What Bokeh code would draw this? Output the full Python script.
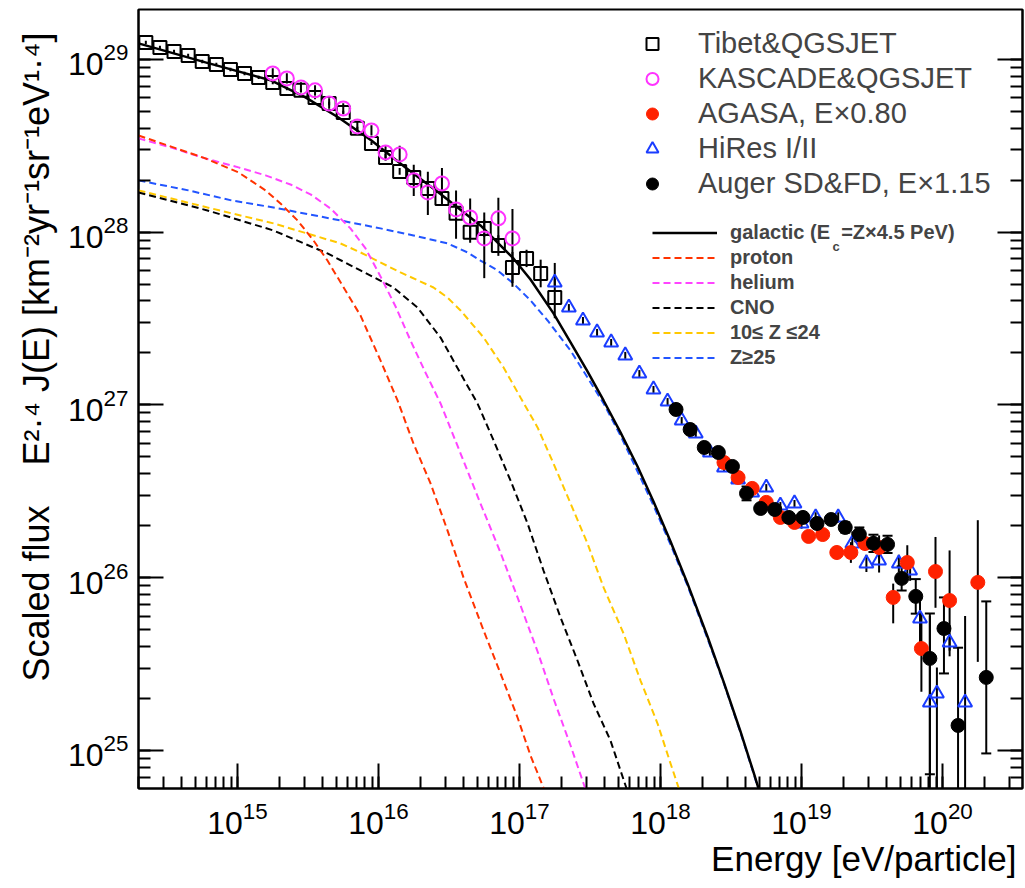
import numpy as np
from bokeh.plotting import figure
from bokeh.models import Range1d, LogAxis, LogTicker, Label, Legend, LegendItem, Title
from bokeh.embed import file_html
from bokeh.resources import INLINE

# ---------------- data (log10 E [eV], log10 scaled flux) ----------------
tibet_logE = [14.35, 14.45, 14.55, 14.65, 14.75, 14.85, 14.95, 15.05, 15.15, 15.25,
              15.35, 15.45, 15.55, 15.65, 15.75, 15.85, 15.95, 16.05, 16.15, 16.25,
              16.35, 16.45, 16.55, 16.65, 16.75, 16.85, 16.95, 17.05, 17.15, 17.25]
tibet_logF = [29.098, 29.069, 29.046, 29.023, 28.988, 28.971, 28.942, 28.919, 28.896, 28.867,
              28.832, 28.821, 28.780, 28.745, 28.693, 28.601, 28.514, 28.433, 28.352, 28.317,
              28.253, 28.195, 28.109, 27.999, 28.022, 27.923, 27.796, 27.848, 27.761, 27.622]
tibet_err_up = [0.01, 0.01, 0.01, 0.01, 0.01, 0.01, 0.01, 0.01, 0.01, 0.01,
                0.01, 0.01, 0.01, 0.01, 0.01, 0.01, 0.01, 0.02, 0.02, 0.03,
                0.03, 0.04, 0.05, 0.06, 0.05, 0.06, 0.09, 0.05, 0.08, 0.20]
tibet_err_dn = [0.01, 0.01, 0.01, 0.01, 0.01, 0.01, 0.01, 0.01, 0.01, 0.01,
                0.01, 0.01, 0.01, 0.01, 0.01, 0.01, 0.01, 0.02, 0.02, 0.03,
                0.03, 0.04, 0.05, 0.06, 0.05, 0.06, 0.09, 0.05, 0.08, 0.12]

kascade_logE = [15.25, 15.35, 15.45, 15.55, 15.65, 15.75, 15.85, 15.95, 16.05,
                16.15, 16.25, 16.35, 16.45, 16.55, 16.65, 16.75, 16.85, 16.95]
kascade_logF = [28.919, 28.890, 28.838, 28.821, 28.745, 28.716, 28.612, 28.589, 28.462,
                28.450, 28.300, 28.230, 28.282, 28.132, 28.085, 27.964, 28.080, 27.964]
kascade_err_up = [0.03, 0.03, 0.03, 0.03, 0.03, 0.03, 0.03, 0.03, 0.04,
                  0.05, 0.09, 0.12, 0.09, 0.11, 0.11, 0.15, 0.12, 0.17]
kascade_err_dn = [0.03, 0.03, 0.03, 0.03, 0.03, 0.03, 0.03, 0.03, 0.04,
                  0.05, 0.09, 0.13, 0.08, 0.17, 0.12, 0.23, 0.14, 0.28]

agasa_logE = [18.45, 18.55, 18.65, 18.75, 18.85, 18.95, 19.05, 19.15, 19.25,
              19.35, 19.45, 19.55, 19.65, 19.75, 19.85, 19.95, 20.05, 20.25]
agasa_logF = [26.667, 26.580, 26.517, 26.436, 26.349, 26.320, 26.239, 26.250, 26.146,
              26.146, 26.198, 26.175, 25.886, 26.088, 25.590, 26.036, 25.868, 25.973]
agasa_err_up = [0.02, 0.02, 0.02, 0.02, 0.02, 0.02, 0.03, 0.03, 0.04,
                0.06, 0.04, 0.07, 0.08, 0.10, 0.20, 0.20, 0.29, 0.36]
agasa_err_dn = [0.02, 0.02, 0.02, 0.02, 0.02, 0.02, 0.03, 0.03, 0.04,
                0.06, 0.04, 0.07, 0.15, 0.10, 0.25, 0.21, 0.29, 0.46]

hires_logE = [17.25, 17.35, 17.45, 17.55, 17.65, 17.75, 17.85, 17.95, 18.05, 18.15,
              18.25, 18.35, 18.45, 18.55, 18.65, 18.75, 18.85, 18.95, 19.00, 19.10,
              19.26, 19.36, 19.46, 19.55, 19.69, 19.77, 19.84, 19.91, 19.96, 20.05, 20.16]
hires_logF = [27.709, 27.564, 27.489, 27.420, 27.362, 27.287, 27.182, 27.090, 27.020, 26.910,
              26.835, 26.725, 26.638, 26.569, 26.494, 26.522, 26.418, 26.430, 26.314, 26.349,
              26.349, 26.198, 26.083, 26.100, 26.083, 26.042, 25.764, 25.278, 25.330, 25.625, 25.278]
hires_err_up = [0.02, 0.02, 0.02, 0.02, 0.02, 0.02, 0.02, 0.02, 0.02, 0.02,
                0.02, 0.02, 0.02, 0.02, 0.02, 0.02, 0.02, 0.02, 0.03, 0.03,
                0.03, 0.07, 0.05, 0.07, 0.05, 0.06, 0.10, 0.50, 0.15, 0.05, 0.50]
hires_err_dn = [0.02, 0.02, 0.02, 0.02, 0.02, 0.02, 0.02, 0.02, 0.02, 0.02,
                0.02, 0.02, 0.02, 0.02, 0.02, 0.02, 0.02, 0.02, 0.03, 0.03,
                0.03, 0.07, 0.05, 0.07, 0.05, 0.06, 0.15, 1.50, 1.50, 0.08, 1.50]

auger_logE = [18.11, 18.21, 18.31, 18.41, 18.51, 18.61, 18.71, 18.81, 18.91, 19.01, 19.11,
              19.21, 19.31, 19.41, 19.51, 19.61, 19.71, 19.81, 19.91, 20.01, 20.11, 20.31]
auger_logF = [26.974, 26.858, 26.754, 26.725, 26.644, 26.488, 26.401, 26.395, 26.349, 26.349, 26.314,
              26.337, 26.291, 26.251, 26.199, 26.193, 25.996, 25.892, 25.533, 25.706, 25.145, 25.423]
auger_err_up = [0.02, 0.02, 0.02, 0.02, 0.02, 0.04, 0.02, 0.02, 0.02, 0.02, 0.02,
                0.02, 0.03, 0.04, 0.05, 0.05, 0.07, 0.10, 0.26, 0.18, 0.45, 0.44]
auger_err_dn = [0.02, 0.02, 0.02, 0.02, 0.02, 0.04, 0.02, 0.02, 0.02, 0.02, 0.02,
                0.02, 0.03, 0.04, 0.05, 0.05, 0.07, 0.10, 0.67, 0.26, 1.50, 0.44]

# model curves
galactic_logE = [14.298, 14.773, 15.241, 15.482, 15.716, 15.950, 16.191, 16.426, 16.723, 16.957,
                 17.078, 17.241, 17.362, 17.482, 17.596, 17.716, 17.837, 17.950, 18.071, 18.191,
                 18.333, 18.447, 18.567, 18.660, 18.780]
galactic_logF = [29.093, 28.983, 28.878, 28.780, 28.664, 28.531, 28.375, 28.230, 28.039, 27.848,
                 27.726, 27.530, 27.362, 27.194, 27.026, 26.841, 26.644, 26.441, 26.210, 25.967,
                 25.660, 25.399, 25.110, 24.873, 24.554]
proton_logE = [14.298, 14.773, 15.007, 15.199, 15.305, 15.426, 15.539, 15.638, 15.872, 16.014,
               16.135, 16.248, 16.369, 16.489, 16.603, 16.745, 16.865, 16.986, 17.078, 17.220]
proton_logF = [28.560, 28.427, 28.346, 28.242, 28.166, 28.068, 27.952, 27.836, 27.518, 27.258,
               27.026, 26.777, 26.546, 26.274, 26.001, 25.695, 25.446, 25.191, 24.971, 24.682]
helium_logE = [14.298, 14.525, 14.773, 15.007, 15.199, 15.376, 15.518, 15.660, 15.801, 15.908,
               16.014, 16.121, 16.227, 16.333, 16.440, 16.582, 16.723, 16.865, 16.986, 17.128,
               17.241, 17.362, 17.454, 17.539]
helium_logF = [28.543, 28.491, 28.427, 28.375, 28.329, 28.276, 28.219, 28.137, 28.022, 27.906,
               27.744, 27.570, 27.373, 27.188, 27.009, 26.719, 26.430, 26.146, 25.886, 25.573,
               25.301, 25.029, 24.809, 24.606]
cno_logE = [14.298, 14.787, 15.255, 15.638, 15.872, 16.106, 16.277, 16.440, 16.582, 16.702,
            16.816, 16.936, 17.057, 17.170, 17.291, 17.411, 17.525, 17.645, 17.759, 17.830]
cno_logF = [28.230, 28.126, 28.010, 27.877, 27.779, 27.680, 27.564, 27.390, 27.182, 27.009,
            26.795, 26.563, 26.314, 26.042, 25.770, 25.521, 25.272, 25.058, 24.780, 24.624]
mid_logE = [14.298, 14.787, 15.255, 15.730, 15.872, 16.156, 16.390, 16.489, 16.582, 16.745,
            16.887, 17.007, 17.128, 17.241, 17.362, 17.482, 17.596, 17.738, 17.858, 17.979,
            18.071, 18.170]
mid_logF = [28.242, 28.143, 28.051, 27.935, 27.883, 27.767, 27.680, 27.622, 27.547, 27.391,
            27.217, 27.043, 26.870, 26.661, 26.430, 26.198, 25.944, 25.677, 25.405, 25.156,
            24.925, 24.682]
heavy_logE = [14.298, 14.652, 14.957, 15.255, 15.730, 16.014, 16.248, 16.489, 16.631, 16.723,
              16.844, 16.957, 17.078, 17.199, 17.362, 17.482, 17.596, 17.716, 17.837, 17.950,
              18.071, 18.191, 18.333, 18.447, 18.567, 18.660, 18.780]
heavy_logF = [28.300, 28.242, 28.184, 28.143, 28.068, 28.022, 27.981, 27.935, 27.883, 27.836,
              27.779, 27.703, 27.605, 27.489, 27.315, 27.159, 27.009, 26.823, 26.615, 26.418,
              26.192, 25.955, 25.648, 25.394, 25.104, 24.867, 24.548]

legend_markers = ["Tibet&QGSJET", "KASCADE&QGSJET", "AGASA, E×0.80", "HiRes I/II",
                  "Auger SD&FD, E×1.15"]
legend_lines = ["galactic (E  =Z×4.5 PeV)", "proton", "helium", "CNO", "10≤ Z ≤24", "Z≥25"]
x_title = "Energy [eV/particle]"
y_title = ("Scaled flux\u00a0\u00a0\u00a0\u00a0E\u00b2\u00b7\u2074 J(E) "
           "[km\u207b\u00b2yr\u207b\u00b9sr\u207b\u00b9eV\u00b9\u00b7\u2074]")

# ---------------- geometry ----------------
FRAME_L, FRAME_T, FRAME_W, FRAME_H = 138, 9, 884, 779
X_LOG0, X_LOG1 = 14.298, 20.567
Y_LOG0, Y_LOG1 = 24.780, 29.289
FONT = "Liberation Sans"


def px2x(px):
    return 10 ** (X_LOG0 + (px - FRAME_L) / FRAME_W * (X_LOG1 - X_LOG0))


def py2y(py):
    return 10 ** (Y_LOG1 - (py - FRAME_T) / FRAME_H * (Y_LOG1 - Y_LOG0))


def pw(a):
    return 10 ** np.array(a, dtype=float)


p = figure(x_axis_type="log", y_axis_type="log",
           x_range=Range1d(10 ** X_LOG0, 10 ** X_LOG1),
           y_range=Range1d(10 ** Y_LOG0, 10 ** Y_LOG1),
           frame_width=FRAME_W, frame_height=FRAME_H,
           min_border_left=FRAME_L, min_border_top=FRAME_T,
           min_border_right=2, min_border_bottom=90,
           output_backend="svg", toolbar_location=None)
p.background_fill_color = "white"
p.border_fill_color = "white"
p.outline_line_color = "black"
p.outline_line_width = 2
p.xgrid.visible = False
p.ygrid.visible = False


def style_axis(ax, show_labels=True):
    ax.ticker = LogTicker(num_minor_ticks=10)
    ax.major_tick_in = 25
    ax.major_tick_out = 0
    ax.minor_tick_in = 12
    ax.minor_tick_out = 0
    ax.major_tick_line_width = 2
    ax.minor_tick_line_width = 2
    ax.axis_line_width = 2
    ax.major_label_text_font = FONT
    ax.major_label_text_font_size = "32px" if show_labels else "0px"
    ax.major_label_text_color = "black"
    if not show_labels:
        ax.major_label_text_alpha = 0


style_axis(p.xaxis[0])
style_axis(p.yaxis[0])
p.xaxis[0].major_label_standoff = 13
p.yaxis[0].major_label_standoff = 10
ra = LogAxis()
style_axis(ra, show_labels=False)
ra.major_label_standoff = 0
p.add_layout(ra, "right")

DASH = "7 4"
r_heavy = p.line(pw(heavy_logE), pw(heavy_logF), line_color="#2255ff", line_width=2, line_dash=DASH)
r_mid = p.line(pw(mid_logE), pw(mid_logF), line_color="#ffc800", line_width=2, line_dash=DASH)
r_cno = p.line(pw(cno_logE), pw(cno_logF), line_color="black", line_width=2, line_dash=DASH)
r_he = p.line(pw(helium_logE), pw(helium_logF), line_color="#ff44ff", line_width=2, line_dash=DASH)
r_p = p.line(pw(proton_logE), pw(proton_logF), line_color="#ff3300", line_width=2, line_dash=DASH)
r_gal = p.line(pw(galactic_logE), pw(galactic_logF), line_color="black", line_width=2.5)


def errbars(logE, logF, up, dn, caps=False):
    E = pw(logE)
    lo = pw(np.array(logF) - np.array(dn))
    hi = pw(np.array(logF) + np.array(up))
    p.segment(x0=E, y0=lo, x1=E, y1=hi, line_color="black", line_width=2)
    if caps:
        p.scatter(np.concatenate([E, E]), np.concatenate([lo, hi]), marker="dash",
                  size=10, line_color="black", line_width=2)


errbars(tibet_logE, tibet_logF, tibet_err_up, tibet_err_dn)
errbars(kascade_logE, kascade_logF, kascade_err_up, kascade_err_dn)
errbars(hires_logE, hires_logF, hires_err_up, hires_err_dn)
errbars(agasa_logE, agasa_logF, agasa_err_up, agasa_err_dn)
errbars(auger_logE, auger_logF, auger_err_up, auger_err_dn, caps=True)

r_tibet = p.scatter(pw(tibet_logE), pw(tibet_logF), marker="square", size=13,
                    fill_color=None, line_color="black", line_width=2)
r_kas = p.scatter(pw(kascade_logE), pw(kascade_logF), marker="circle", size=14,
                  fill_color=None, line_color="#ff33ff", line_width=2)
r_hires = p.scatter(pw(hires_logE), pw(hires_logF), marker="triangle", size=14,
                    fill_color=None, line_color="#1a3cff", line_width=2)
r_agasa = p.scatter(pw(agasa_logE), pw(agasa_logF), marker="circle", size=14,
                    fill_color="#ff2200", line_color="#ff2200")
r_auger = p.scatter(pw(auger_logE), pw(auger_logF), marker="circle", size=14,
                    fill_color="black", line_color="black")

leg1 = Legend(items=[LegendItem(label=legend_markers[0], renderers=[r_tibet]),
                     LegendItem(label=legend_markers[1], renderers=[r_kas]),
                     LegendItem(label=legend_markers[2], renderers=[r_agasa]),
                     LegendItem(label=legend_markers[3], renderers=[r_hires]),
                     LegendItem(label=legend_markers[4], renderers=[r_auger])],
              location=(637 - FRAME_L, (FRAME_T + FRAME_H) - 200.5),
              glyph_width=30, glyph_height=35, label_height=35, label_standoff=31,
              spacing=0, padding=0, margin=0,
              label_text_font=FONT, label_text_font_size="29px",
              background_fill_alpha=0, border_line_color=None)
leg2 = Legend(items=[LegendItem(label=legend_lines[0], renderers=[r_gal]),
                     LegendItem(label=legend_lines[1], renderers=[r_p]),
                     LegendItem(label=legend_lines[2], renderers=[r_he]),
                     LegendItem(label=legend_lines[3], renderers=[r_cno]),
                     LegendItem(label=legend_lines[4], renderers=[r_mid]),
                     LegendItem(label=legend_lines[5], renderers=[r_heavy])],
              location=(652 - FRAME_L, (FRAME_T + FRAME_H) - 369.5),
              glyph_width=65, glyph_height=25, label_height=25, label_standoff=13,
              spacing=0, padding=0, margin=0,
              label_text_font=FONT, label_text_font_size="20px", label_text_font_style="bold",
              background_fill_alpha=0, border_line_color=None)
p.add_layout(leg1)
p.add_layout(leg2)

# subscript c in the legend entry
p.add_layout(Label(x=px2x(832), y=py2y(246), text="c", text_font=FONT, text_font_size="13px",
                   text_font_style="bold", text_baseline="alphabetic", text_align="left"))

# axis titles as side-panel titles (not clipped by the frame)
p.add_layout(Title(text=x_title, align="right", offset=6, standoff=0,
                   text_font=FONT, text_font_size="35px", text_font_style="normal",
                   text_color="black"), "below")
p.add_layout(Title(text=y_title, align="left", offset=107, standoff=17,
                   text_font=FONT, text_font_size="36px", text_font_style="normal",
                   text_color="black"), "left")

open("out.html", "w").write(file_html(p, INLINE))
